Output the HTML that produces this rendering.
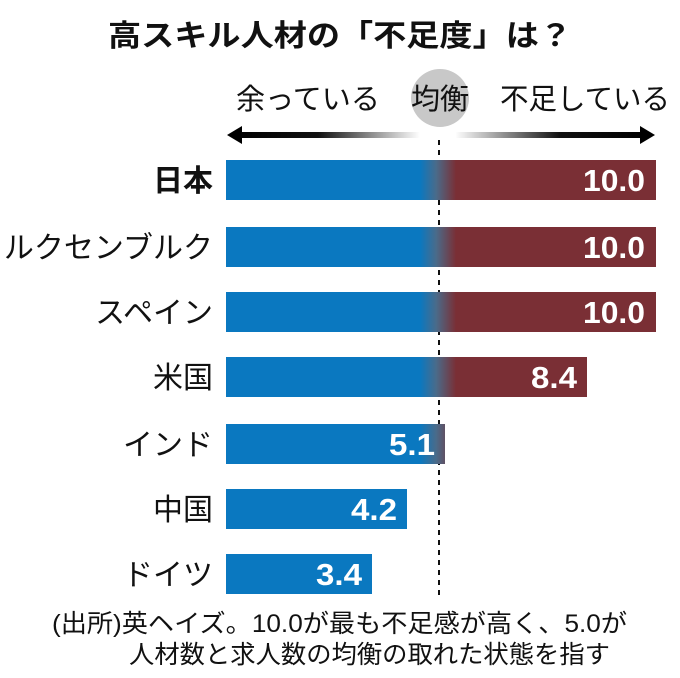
<!DOCTYPE html>
<html><head><meta charset="utf-8"><style>
body{margin:0;background:#fff;}
svg{display:block;font-family:"Liberation Sans","Noto Sans CJK JP",sans-serif;}
</style></head><body>
<svg width="680" height="678" viewBox="0 0 680 678">
<defs>
<linearGradient id="g" gradientUnits="userSpaceOnUse" x1="420" y1="0" x2="456" y2="0">
<stop offset="0" stop-color="#0a78c0"/><stop offset="0.45" stop-color="#4a6b8a"/><stop offset="1" stop-color="#7a2f35"/>
</linearGradient>
<linearGradient id="al" gradientUnits="userSpaceOnUse" x1="235" y1="0" x2="420" y2="0">
<stop offset="0" stop-color="#000"/><stop offset="0.45" stop-color="#111"/><stop offset="1" stop-color="#fff"/>
</linearGradient>
<linearGradient id="ar" gradientUnits="userSpaceOnUse" x1="455" y1="0" x2="645" y2="0">
<stop offset="0" stop-color="#fff"/><stop offset="0.55" stop-color="#111"/><stop offset="1" stop-color="#000"/>
</linearGradient>
</defs>
<text x="108" y="46" font-size="30" font-weight="bold" fill="#111" textLength="464" lengthAdjust="spacingAndGlyphs">高スキル人材の「不足度」は？</text>
<text x="236" y="109" font-size="29" fill="#111" textLength="144" lengthAdjust="spacingAndGlyphs">余っている</text>
<text x="500" y="109" font-size="29" fill="#111" textLength="170" lengthAdjust="spacingAndGlyphs">不足している</text>
<circle cx="440" cy="98" r="29" fill="#c8c8c8"/>
<text x="440" y="109" font-size="29" fill="#111" text-anchor="middle">均衡</text>
<rect x="238" y="132" width="184" height="6" fill="url(#al)"/>
<rect x="456" y="132" width="188" height="6" fill="url(#ar)"/>
<polygon points="227,135 242,126 242,144" fill="#000"/>
<polygon points="655,135 640,126 640,144" fill="#000"/>
<line x1="439" y1="140" x2="439" y2="598" stroke="#111" stroke-width="2" stroke-dasharray="5,5"/>
<g font-size="30" fill="#111" text-anchor="end">
<text x="213" y="191" font-weight="bold">日本</text>
<text x="213" y="258">ルクセンブルク</text>
<text x="213" y="323">スペイン</text>
<text x="213" y="388">米国</text>
<text x="213" y="455">インド</text>
<text x="213" y="520">中国</text>
<text x="213" y="585">ドイツ</text>
</g>
<rect x="226" y="160" width="430" height="40" fill="url(#g)"/>
<rect x="226" y="227" width="430" height="40" fill="url(#g)"/>
<rect x="226" y="292" width="430" height="40" fill="url(#g)"/>
<rect x="226" y="357" width="361" height="40" fill="url(#g)"/>
<rect x="226" y="424" width="219" height="40" fill="url(#g)"/>
<rect x="226" y="489" width="181" height="40" fill="#0a78c0"/>
<rect x="226" y="554" width="146" height="40" fill="#0a78c0"/>
<g font-size="31" font-weight="bold" fill="#fff" lengthAdjust="spacingAndGlyphs">
<text x="583" y="191" textLength="62" lengthAdjust="spacingAndGlyphs">10.0</text>
<text x="583" y="258" textLength="62" lengthAdjust="spacingAndGlyphs">10.0</text>
<text x="583" y="323" textLength="62" lengthAdjust="spacingAndGlyphs">10.0</text>
<text x="531" y="388" textLength="46" lengthAdjust="spacingAndGlyphs">8.4</text>
<text x="389" y="455" textLength="46" lengthAdjust="spacingAndGlyphs">5.1</text>
<text x="351" y="520" textLength="46" lengthAdjust="spacingAndGlyphs">4.2</text>
<text x="316" y="585" textLength="46" lengthAdjust="spacingAndGlyphs">3.4</text>
</g>
<text x="52" y="632" font-size="25" fill="#111" textLength="575" lengthAdjust="spacingAndGlyphs">(出所)英ヘイズ。10.0が最も不足感が高く、5.0が</text>
<text x="129" y="663" font-size="25" fill="#111" textLength="481" lengthAdjust="spacingAndGlyphs">人材数と求人数の均衡の取れた状態を指す</text>
</svg>
</body></html>
